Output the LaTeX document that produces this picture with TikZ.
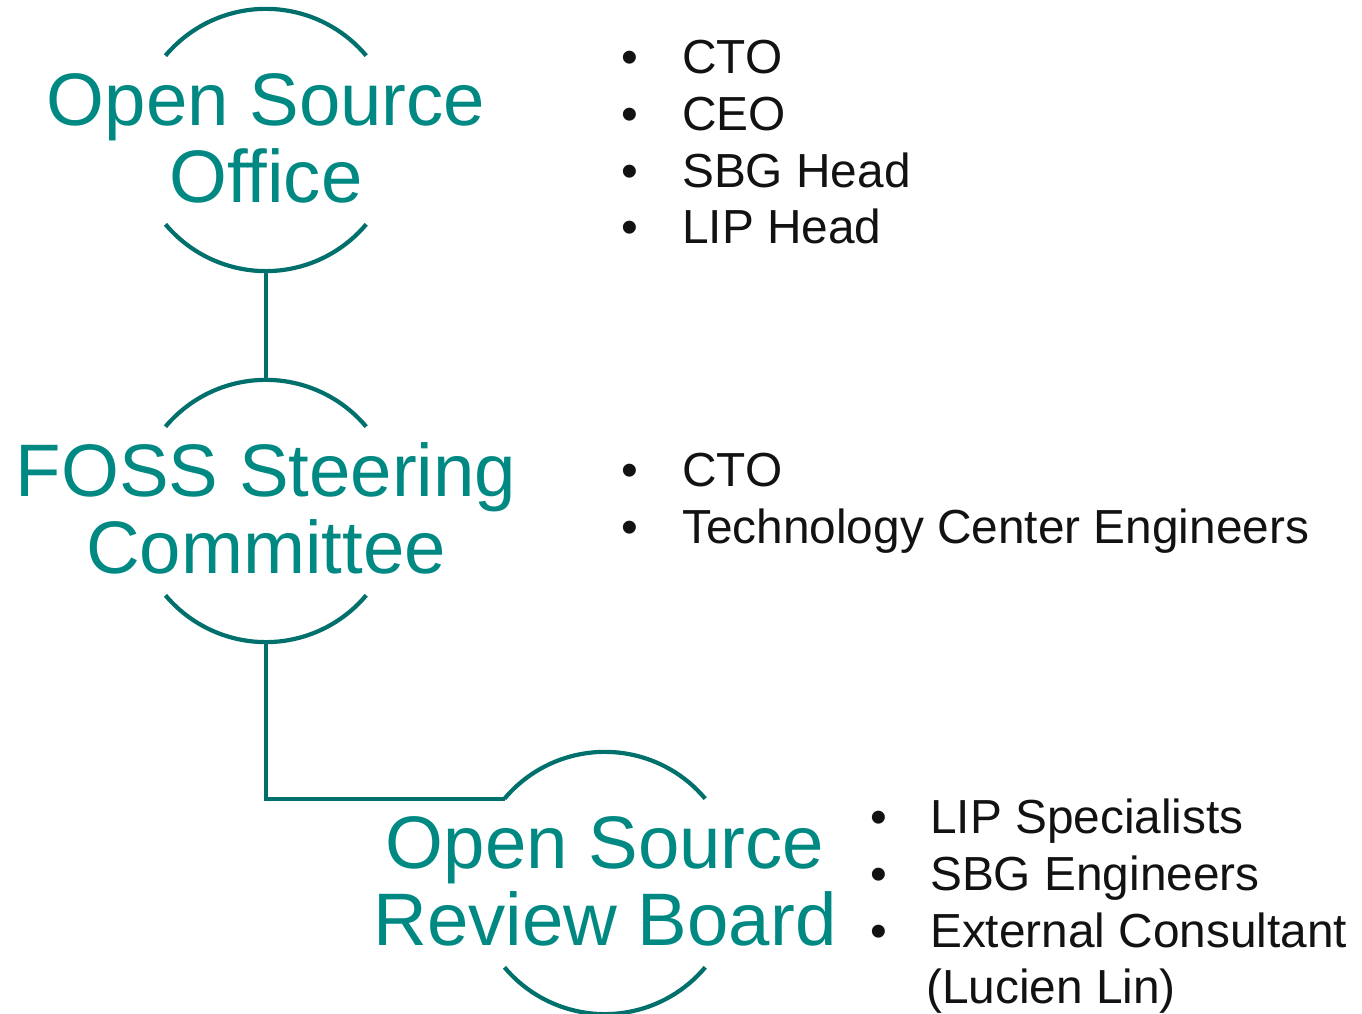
\documentclass[tikz,border=0pt]{standalone}
\usepackage{fontspec}
\setmainfont{Liberation Sans}
\definecolor{tealtext}{RGB}{0,137,130}
\definecolor{tealline}{RGB}{0,112,108}
\definecolor{nearblack}{RGB}{18,18,18}
\begin{document}
\begin{tikzpicture}[x=1pt,y=1pt,
  ring/.style={circle,minimum size=262pt,inner sep=0pt,draw=none},
  arcline/.style={draw=tealline,line width=4.2pt},
  conn/.style={draw=tealline,line width=4.2pt},
  title/.style={anchor=base,inner sep=0pt,text=tealtext,font=\fontsize{74.4}{77}\selectfont},
  bul/.style={anchor=base,inner sep=0pt,text=nearblack,font=\fontsize{47.8}{57}\selectfont},
  item/.style={anchor=base west,inner sep=0pt,text=nearblack,font=\fontsize{47.8}{57}\selectfont}]
\useasboundingbox[fill=white] (0,0) rectangle (1362,1014);

% rings
\node[ring] (oso) at (266,874) {};
\node[ring] (foss) at (266,503) {};
\node[ring] (osrb) at (605,131) {};

\foreach \r in {oso,foss,osrb}{
  \draw[arcline] (\r.140) arc[start angle=140,end angle=40,radius=131pt];
  \draw[arcline] (\r.220) arc[start angle=220,end angle=320,radius=131pt];
}

% titles
\node[title] (oso1) at ([yshift=14pt]oso.center) {Open Source};
\node[title] (oso2) at ([yshift=-63pt]oso.center) {Office};
\node[title] (foss1) at ([yshift=14pt]foss.center) {FOSS Steering};
\node[title] (foss2) at ([yshift=-63pt]foss.center) {Committee};
\node[title] (osrb1) at ([yshift=14pt]osrb.center) {Open Source};
\node[title] (osrb2) at ([yshift=-63pt]osrb.center) {Review Board};

% connectors
\draw[conn] (oso.south) -- (foss.north);
\draw[conn] (foss.south) |- (osrb.140);

% list 1
\node[bul] (b11) at (630,940) {•}; \node[item] (t11) at (682,940) {CTO};
\node[bul] (b12) at (630,883) {•}; \node[item] (t12) at (682,883) {CEO};
\node[bul] (b13) at (630,826) {•}; \node[item] (t13) at (682,826) {SBG Head};
\node[bul] (b14) at (630,770) {•}; \node[item] (t14) at (682,770) {LIP Head};

% list 2
\node[bul] (b21) at (630,527) {•}; \node[item] (t21) at (682,527) {CTO};
\node[bul] (b22) at (630,470) {•}; \node[item] (t22) at (682,470) {Technology Center Engineers};

% list 3
\node[bul] (b31) at (879,180) {•}; \node[item] (t31) at (930,180) {LIP Specialists};
\node[bul] (b32) at (879,123) {•}; \node[item] (t32) at (930,123) {SBG Engineers};
\node[bul] (b33) at (879,66) {•}; \node[item] (t33) at (930,66) {External Consultant};
\node[item] (t34) at (926,10) {(Lucien Lin)};
\end{tikzpicture}
\end{document}
